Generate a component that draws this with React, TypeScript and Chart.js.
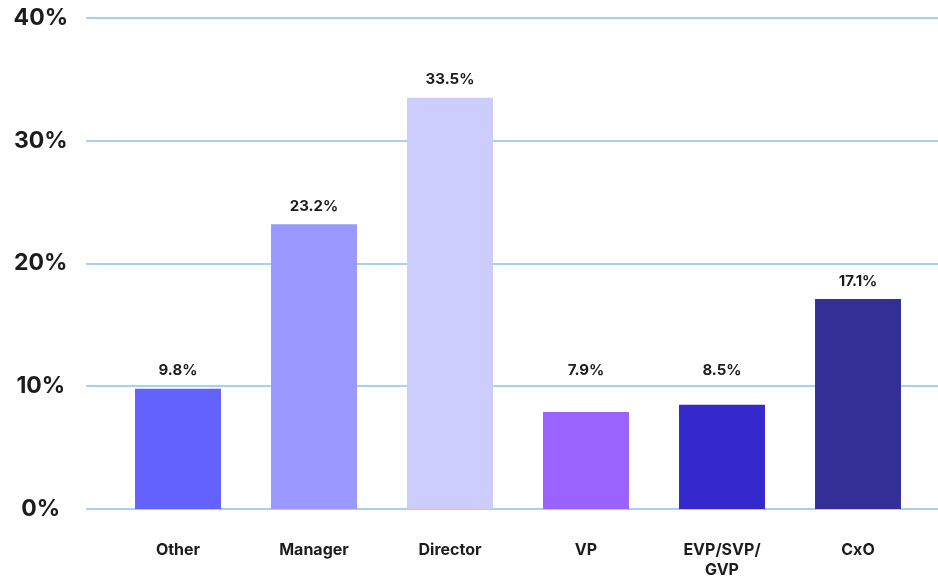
import React, { useEffect, useRef } from "react";
import { Chart, registerables } from "chart.js";

Chart.register(...registerables);

const categories: (string | string[])[] = ["Other", "Manager", "Director", "VP", ["EVP/SVP/", "GVP"], "CxO"];
const values: number[] = [9.8, 23.2, 33.5, 7.9, 8.5, 17.1];
const barColors: string[] = ["#6462ff", "#9999ff", "#ccccfd", "#9a62ff", "#3329cc", "#332f96"];
const yTicks: number[] = [0, 10, 20, 30, 40];
const minLabelValue = 9.8; // labels of short bars sit no lower than this level

const FONT = "Inter, 'Noto Sans', sans-serif";
const TEXT = "#1c1c1c";

const gridPlugin = {
  id: "extGrid",
  beforeDatasetsDraw(chart: any) {
    const { ctx } = chart;
    const y = chart.scales.y;
    ctx.save();
    ctx.strokeStyle = "#a8d0f7";
    ctx.lineWidth = 2;
    yTicks.forEach((v) => {
      const py = Math.round(y.getPixelForValue(v));
      ctx.beginPath();
      ctx.moveTo(86, py);
      ctx.lineTo(chart.width, py);
      ctx.stroke();
    });
    ctx.restore();
  },
};

const labelPlugin = {
  id: "barLabels",
  afterDatasetsDraw(chart: any) {
    const { ctx } = chart;
    const meta = chart.getDatasetMeta(0);
    const floorY = chart.scales.y.getPixelForValue(minLabelValue);
    ctx.save();
    ctx.font = `700 15px ${FONT}`;
    ctx.fillStyle = TEXT;
    ctx.textAlign = "center";
    ctx.textBaseline = "middle";
    meta.data.forEach((bar: any, i: number) => {
      ctx.fillText(values[i].toFixed(1) + "%", bar.x, Math.min(bar.y, floorY) - 18);
    });
    ctx.restore();
  },
};

export default function App() {
  const ref = useRef<HTMLCanvasElement>(null);
  useEffect(() => {
    if (!ref.current) return;
    const chart = new Chart(ref.current, {
      type: "bar",
      data: {
        labels: categories,
        datasets: [
          {
            data: values,
            backgroundColor: barColors,
            borderWidth: 0,
            barPercentage: 0.632,
            categoryPercentage: 1,
          },
        ],
      },
      options: {
        animation: false,
        responsive: true,
        maintainAspectRatio: false,
        layout: { padding: { top: 18, right: 12, left: 0, bottom: 0 } },
        plugins: { legend: { display: false }, tooltip: { enabled: false } },
        scales: {
          x: {
            grid: { display: false, drawTicks: false },
            border: { display: false },
            ticks: {
              padding: 32,
              color: TEXT,
              font: { family: FONT, size: 16, weight: "bold", lineHeight: 1.2 },
              maxRotation: 0,
              autoSkip: false,
            },
            afterFit(scale: any) {
              scale.height = 70;
            },
          },
          y: {
            min: 0,
            max: 40,
            grid: { display: false, drawTicks: false },
            border: { display: false },
            ticks: {
              stepSize: 10,
              padding: 42,
              crossAlign: "center",
              color: TEXT,
              font: { family: FONT, size: 23, weight: "bold" },
              callback: (v: any) => v + "%",
            },
            afterFit(scale: any) {
              scale.width = 110;
              scale.paddingTop = 0;
              scale.paddingBottom = 0;
            },
          },
        },
      },
      plugins: [gridPlugin, labelPlugin],
    });
    return () => chart.destroy();
  }, []);
  return (
    <div style={{ position: "absolute", left: 0, top: 0, width: 938, height: 579, background: "#fff" }}>
      <canvas ref={ref} />
    </div>
  );
}
